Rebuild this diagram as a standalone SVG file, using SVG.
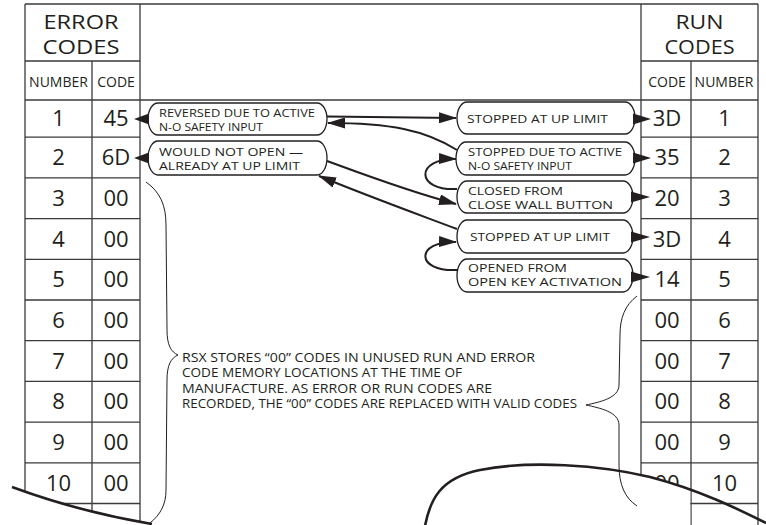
<svg xmlns="http://www.w3.org/2000/svg" width="766" height="525" viewBox="0 0 766 525">
<style>
text{font-family:"Open Sans","Noto Sans","Liberation Sans",sans-serif;fill:#231f20}
.title{font-size:20px;text-anchor:middle}
.sub{font-size:14px;text-anchor:middle}
.num{font-size:22px;text-anchor:middle}
.lbl{font-size:11.5px}
.note{font-size:12px}
.grid{stroke:#3a3a3a;stroke-width:1.3;fill:none}
.bub{fill:#fff;stroke:#231f20;stroke-width:1.3}
.tip{fill:#231f20}
.conn{fill:none;stroke:#231f20;stroke-width:2}
.cut{fill:none;stroke:#231f20;stroke-width:2.6}
.brace{fill:none;stroke:#231f20;stroke-width:1}
</style>
<defs>
<marker id="ah" markerUnits="userSpaceOnUse" markerWidth="18" markerHeight="11" refX="17" refY="5.5" orient="auto">
<path d="M0,0 L18,5.5 L0,11 Z" fill="#231f20"/>
</marker>
<clipPath id="codeclip"><rect x="639" y="0" width="51.3" height="525"/></clipPath>
</defs>
<rect x="0" y="0" width="766" height="525" fill="#fff"/>

<g id="grid" class="grid">
<line x1="25" y1="4" x2="758" y2="4"/>
<line x1="25" y1="61" x2="140" y2="61"/>
<line x1="641" y1="61" x2="758" y2="61"/>
<line x1="25" y1="100" x2="758" y2="100"/>
<line x1="25" y1="4" x2="25" y2="525"/>
<line x1="92" y1="61" x2="92" y2="525"/>
<line x1="140" y1="4" x2="140" y2="525"/>
<line x1="641" y1="4" x2="641" y2="525"/>
<line x1="691" y1="61" x2="691" y2="525"/>
<line x1="758" y1="4" x2="758" y2="525"/>
<path d="M25 137.2H140M25 177.9H140M25 218.6H140M25 259.3H140M25 300H140M25 340.7H140M25 381.4H140M25 422.1H140M25 462.8H140M25 503.5H140"/>
<path d="M641 137.2H758M641 177.9H758M641 218.6H758M641 259.3H758M641 300H758M641 340.7H758M641 381.4H758M641 422.1H758M641 462.8H758M641 503.5H758"/>
</g>

<g id="error-table">
<text class="title"><tspan x="81" y="29" textLength="75" lengthAdjust="spacingAndGlyphs">ERROR</tspan><tspan x="81" y="54" textLength="77" lengthAdjust="spacingAndGlyphs">CODES</tspan></text>
<text class="sub" x="58.5" y="87">NUMBER</text>
<text class="sub" x="116" y="87">CODE</text>
<g class="num">
<text x="58.5" y="126">1</text><text x="116" y="126">45</text>
<text x="58.5" y="165">2</text><text x="116" y="165">6D</text>
<text x="58.5" y="205.7">3</text><text x="116" y="205.7">00</text>
<text x="58.5" y="246.5">4</text><text x="116" y="246.5">00</text>
<text x="58.5" y="287.1">5</text><text x="116" y="287.1">00</text>
<text x="58.5" y="327.8">6</text><text x="116" y="327.8">00</text>
<text x="58.5" y="368.5">7</text><text x="116" y="368.5">00</text>
<text x="58.5" y="409.3">8</text><text x="116" y="409.3">00</text>
<text x="58.5" y="450">9</text><text x="116" y="450">00</text>
<text x="58.5" y="490.6">10</text><text x="116" y="490.6">00</text>
</g>
</g>

<g id="run-table">
<text class="title"><tspan x="699.5" y="29" textLength="48" lengthAdjust="spacingAndGlyphs">RUN</tspan><tspan x="699.5" y="54" textLength="70" lengthAdjust="spacingAndGlyphs">CODES</tspan></text>
<text class="sub" x="667" y="87">CODE</text>
<text class="sub" x="724" y="87">NUMBER</text>
<g class="num">
<text x="667" y="126">3D</text><text x="724.5" y="126">1</text>
<text x="667" y="165">35</text><text x="724.5" y="165">2</text>
<text x="667" y="205.7">20</text><text x="724.5" y="205.7">3</text>
<text x="667" y="246.5">3D</text><text x="724.5" y="246.5">4</text>
<text x="667" y="287.1">14</text><text x="724.5" y="287.1">5</text>
<text x="667" y="327.8">00</text><text x="724.5" y="327.8">6</text>
<text x="667" y="368.5">00</text><text x="724.5" y="368.5">7</text>
<text x="667" y="409.3">00</text><text x="724.5" y="409.3">8</text>
<text x="667" y="450">00</text><text x="724.5" y="450">9</text>
<text x="667" y="490.6">00</text><text x="724.5" y="490.6">10</text>
</g>
</g>

<g id="tear">
<path d="M0 485 L12 487 Q80 512 152 524 L152 525 L0 525 Z" fill="#fff"/>
<path d="M425 526 C430 500,440 478,480 470 C530 460,600 465,650 477 C700 490,740 510,766 523 L766 525 L425 525 Z" fill="#fff" clip-path="url(#codeclip)"/>
<path class="cut" d="M12 487 Q80 512 152 524"/>
<path class="cut" d="M425 526 C430 500,440 478,480 470 C530 460,600 465,650 477 C700 490,740 510,766 523"/>
</g>

<g id="note">
<path class="brace" d="M146 182 C160 192,166 205,166 225 L167 330 C167 345,171 352,178 355 C171 358,167 365,167 380 L166 490 C166 505,160 515,150 523"/>
<path class="brace" d="M637 296 C625 305,620 318,620 335 L619 385 C619 398,600 402,586 405 C600 408,619 412,619 425 L619 465 C619 485,625 498,637 506"/>
<text class="note"><tspan x="182" y="361.5" textLength="353" lengthAdjust="spacingAndGlyphs">RSX STORES “00” CODES IN UNUSED RUN AND ERROR</tspan><tspan x="182" y="377" textLength="280" lengthAdjust="spacingAndGlyphs">CODE MEMORY LOCATIONS AT THE TIME OF</tspan><tspan x="182" y="392.5" textLength="310" lengthAdjust="spacingAndGlyphs">MANUFACTURE. AS ERROR OR RUN CODES ARE</tspan><tspan x="182" y="408" textLength="395" lengthAdjust="spacingAndGlyphs">RECORDED, THE “00” CODES ARE REPLACED WITH VALID CODES</tspan></text>
</g>

<g id="connectors">
<path class="conn" d="M327 116.5 L456 118" marker-end="url(#ah)"/>
<path class="conn" d="M457 150 C425 130,390 123,328 123" marker-end="url(#ah)"/>
<path class="conn" d="M457 189 C415 191,415 158,456 159" marker-end="url(#ah)"/>
<path class="conn" d="M327 161 C365 175,410 192,456 204" marker-end="url(#ah)"/>
<path class="conn" d="M457 229 C420 215,370 197,319 176" marker-end="url(#ah)"/>
<path class="conn" d="M457 270 C415 272,415 241,456 242" marker-end="url(#ah)"/>
</g>

<g id="n-reversed">
<rect class="bub" x="148" y="103" width="179" height="32" rx="10" ry="16"/>
<polygon class="tip" points="149,113.5 134,119 149,124.5"/>
<text class="lbl"><tspan x="159" y="117" textLength="156" lengthAdjust="spacingAndGlyphs">REVERSED DUE TO ACTIVE</tspan><tspan x="159" y="131" textLength="104" lengthAdjust="spacingAndGlyphs">N-O SAFETY INPUT</tspan></text>
</g>
<g id="n-wouldnot">
<rect class="bub" x="148" y="141" width="179" height="34" rx="10" ry="17"/>
<polygon class="tip" points="149,152.5 134,158 149,163.5"/>
<text class="lbl"><tspan x="159" y="155.5" textLength="144" lengthAdjust="spacingAndGlyphs">WOULD NOT OPEN —</tspan><tspan x="159" y="169.5" textLength="141" lengthAdjust="spacingAndGlyphs">ALREADY AT UP LIMIT</tspan></text>
</g>
<g id="n-stopped1">
<rect class="bub" x="457" y="102" width="178" height="32" rx="10" ry="16"/>
<polygon class="tip" points="633,113.5 651,119 633,124.5"/>
<text class="lbl" x="467" y="123" textLength="141" lengthAdjust="spacingAndGlyphs">STOPPED AT UP LIMIT</text>
</g>
<g id="n-stopped-safety">
<rect class="bub" x="456" y="142" width="179" height="33" rx="10" ry="16.5"/>
<polygon class="tip" points="633,152.5 651,158 633,163.5"/>
<text class="lbl"><tspan x="468" y="155.5" textLength="154" lengthAdjust="spacingAndGlyphs">STOPPED DUE TO ACTIVE</tspan><tspan x="468" y="169.5" textLength="104" lengthAdjust="spacingAndGlyphs">N-O SAFETY INPUT</tspan></text>
</g>
<g id="n-closed">
<rect class="bub" x="457" y="181" width="176" height="32" rx="10" ry="16"/>
<polygon class="tip" points="631,191.5 650,197 631,202.5"/>
<text class="lbl"><tspan x="468" y="195" textLength="95" lengthAdjust="spacingAndGlyphs">CLOSED FROM</tspan><tspan x="468" y="209" textLength="145" lengthAdjust="spacingAndGlyphs">CLOSE WALL BUTTON</tspan></text>
</g>
<g id="n-stopped2">
<rect class="bub" x="457" y="220" width="176" height="33" rx="10" ry="16.5"/>
<polygon class="tip" points="631,231.5 650,237 631,242.5"/>
<text class="lbl" x="470" y="241" textLength="140" lengthAdjust="spacingAndGlyphs">STOPPED AT UP LIMIT</text>
</g>
<g id="n-opened">
<rect class="bub" x="457" y="259" width="176" height="33" rx="10" ry="16.5"/>
<polygon class="tip" points="631,271.5 650,277 631,282.5"/>
<text class="lbl"><tspan x="468" y="271.5" textLength="99" lengthAdjust="spacingAndGlyphs">OPENED FROM</tspan><tspan x="468" y="285.5" textLength="154" lengthAdjust="spacingAndGlyphs">OPEN KEY ACTIVATION</tspan></text>
</g>
</svg>
